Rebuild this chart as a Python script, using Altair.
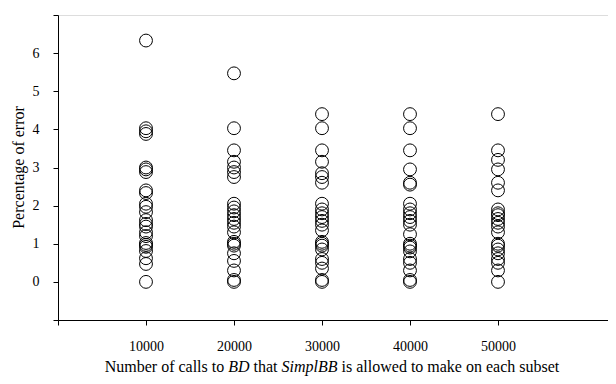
import altair as alt
import pandas as pd

calls = [10000, 20000, 30000, 40000, 50000]
err_10000 = [6.33, 4.03, 3.95, 3.88, 3.0, 2.95, 2.88, 2.4, 2.33, 2.05, 1.97, 1.83, 1.62, 1.52, 1.45,
             1.3, 1.2, 1.02, 0.97, 0.92, 0.81, 0.62, 0.47, 0.0]
err_20000 = [5.47, 4.03, 3.45, 3.15, 3.0, 2.88, 2.75, 2.05, 1.95, 1.85, 1.75, 1.65, 1.55, 1.45, 1.3,
             1.05, 1.0, 0.95, 0.75, 0.55, 0.3, 0.05, 0.0]
err_30000 = [4.4, 4.03, 3.45, 3.15, 2.85, 2.75, 2.6, 2.05, 1.9, 1.8, 1.7, 1.6, 1.5, 1.35, 1.05,
             1.0, 0.95, 0.85, 0.6, 0.5, 0.35, 0.05, 0.0]
err_40000 = [4.4, 4.03, 3.45, 2.95, 2.6, 2.55, 2.05, 1.9, 1.8, 1.7, 1.6, 1.5, 1.25, 1.0, 0.95,
             0.9, 0.8, 0.6, 0.5, 0.3, 0.05, 0.0]
err_50000 = [4.4, 3.45, 3.2, 2.95, 2.6, 2.4, 1.9, 1.8, 1.75, 1.65, 1.55, 1.45, 1.3, 1.0, 0.95,
             0.85, 0.75, 0.6, 0.5, 0.3, 0.0]

x_ticks = [0, 10000, 20000, 30000, 40000, 50000]
y_ticks = [-1, 0, 1, 2, 3, 4, 5, 6, 7]

title_parts = ["Number of calls to ", "BD", " that ", "SimplBB", " is allowed to make on each subset"]
title_italic = [False, True, False, True, False]

rows = []
for c, vals in zip(calls, [err_10000, err_20000, err_30000, err_40000, err_50000]):
    for v in vals:
        rows.append({"calls": c, "err": v})
df = pd.DataFrame(rows)

FONT = "Liberation Serif"
TICK_FS = 14
TITLE_FS = 16

# Times / Liberation Serif advance widths (units per 1000)
REG = {" ": 250, "N": 722, "u": 500, "m": 778, "b": 500, "e": 444, "r": 333, "o": 500, "f": 333,
       "c": 444, "a": 444, "l": 278, "s": 389, "t": 278, "h": 500, "i": 278, "w": 722, "d": 500,
       "k": 500, "n": 500}
ITA = {"B": 611, "D": 722, "S": 500, "i": 278, "m": 722, "p": 500, "l": 278}


def seg_width(s, italic):
    table = ITA if italic else REG
    return sum(table.get(ch, 500) for ch in s) * TITLE_FS / 1000.0


W, H = 550, 305
widths = [seg_width(s, it) for s, it in zip(title_parts, title_italic)]
total = sum(widths)
center_x = 274
acc = center_x - total / 2
text_rows = []
for s, it, w in zip(title_parts, title_italic, widths):
    lead = len(s) - len(s.lstrip(" "))
    text_rows.append({"t": s.strip(), "x0": acc + lead * 250 * TITLE_FS / 1000.0, "it": it})
    acc += w

points = alt.Chart(df).mark_point(
    shape="circle", filled=False, color="black", size=165, strokeWidth=1, opacity=1
).encode(
    x=alt.X("calls:Q", scale=alt.Scale(domain=[0, 62500], nice=False, zero=False),
            axis=alt.Axis(values=x_ticks, title=None, grid=False, labelFont=FONT,
                          labelFontSize=TICK_FS, labelColor="black", tickColor="black",
                          domainColor="black", tickSize=5, labelPadding=14, format="d",
                          labelExpr="datum.value == 0 ? '' : datum.value")),
    y=alt.Y("err:Q", scale=alt.Scale(domain=[-1, 7], nice=False, zero=False),
            axis=alt.Axis(values=y_ticks, title="Percentage of error", grid=False,
                          labelFont=FONT, labelFontSize=TICK_FS, labelColor="black",
                          tickColor="black", domainColor="black", tickSize=5, labelPadding=14,
                          labelExpr="(datum.value < 0 || datum.value > 6) ? '' : datum.value",
                          titleFont=FONT, titleFontSize=TITLE_FS, titleFontWeight="normal",
                          titleColor="black", titleX=-40, titleY=152, titleAngle=-90,
                          titleAlign="center", titleBaseline="middle")),
)

layers = [points]
for r in text_rows:
    layers.append(
        alt.Chart(pd.DataFrame({"t": [r["t"]]})).mark_text(
            font=FONT, fontSize=TITLE_FS, fontStyle="italic" if r["it"] else "normal",
            align="left", baseline="alphabetic", color="black"
        ).encode(x=alt.value(r["x0"]), y=alt.value(H + 52), text="t:N")
    )

chart = alt.layer(*layers).properties(
    width=W, height=H,
    autosize=alt.AutoSizeParams(type="none"),
    padding={"left": 50, "top": 7, "right": 0, "bottom": 56},
).configure_view(stroke=None).configure(background="white")

chart.save("out.html", embed_options={"renderer": "svg", "actions": False})
